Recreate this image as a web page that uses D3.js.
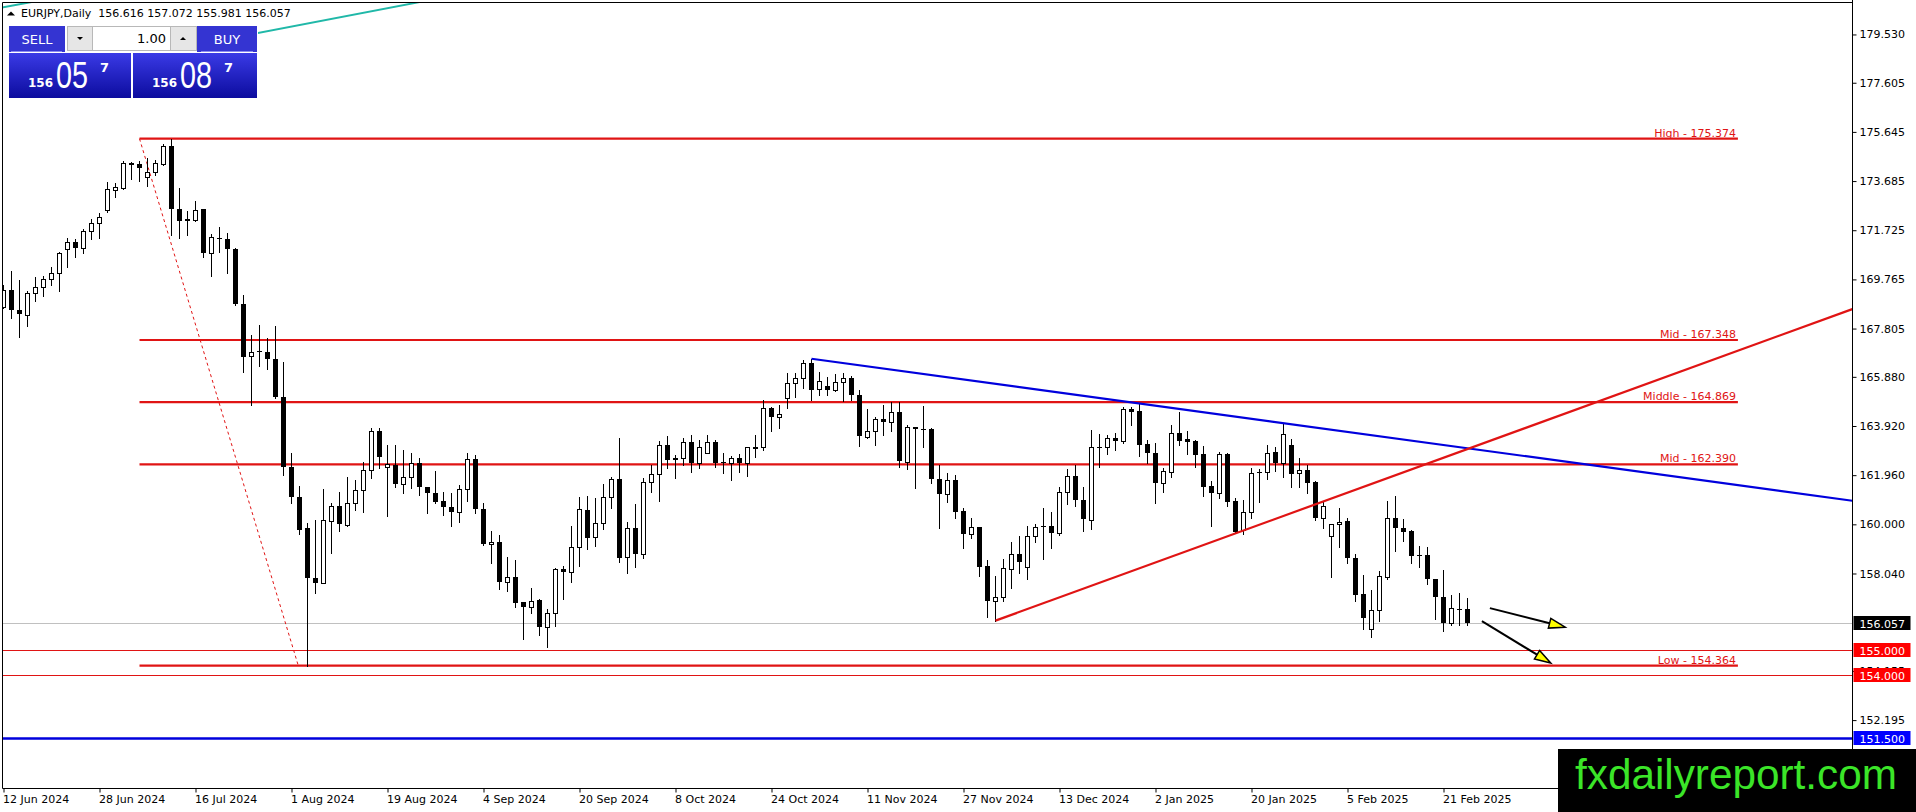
<!DOCTYPE html>
<html>
<head>
<meta charset="utf-8">
<script src="https://cdn.jsdelivr.net/npm/d3@7"></script>
<style>
  html, body { margin: 0; padding: 0; background: #fff; overflow: hidden; }
  svg { display: block; font-family: "DejaVu Sans", sans-serif; }
</style>
</head>
<body>
<svg id="chart" width="1916" height="812"></svg>
<script>
// EURJPY daily candles (bar 0 = 12 Jun 2024)
const opens = [
  168.67,169.33,168.53,168.36,169.23,169.47,169.79,170.03,170.99,171.25,
  171.03,171.69,172.03,172.53,173.33,173.39,174.39,174.36,173.83,174.03,
  174.36,175.07,172.59,172.16,172.13,172.56,170.83,171.43,171.39,170.99,
  168.79,166.72,166.92,166.89,166.59,165.09,162.29,161.10,159.84,157.85,
  157.67,160.15,160.73,159.97,160.84,161.37,162.17,163.73,162.27,162.37,
  161.61,161.87,162.46,161.47,161.24,160.93,160.70,160.50,161.39,162.59,
  160.60,159.20,159.28,157.71,157.91,156.89,156.69,156.98,155.89,156.45,
  158.22,158.08,159.11,160.57,159.48,160.04,161.08,161.79,158.71,159.84,
  158.80,161.67,162.00,163.16,162.63,162.63,163.27,162.43,162.86,163.27,
  162.47,162.46,162.63,162.43,163.06,163.07,164.62,164.29,165.02,165.65,
  165.82,166.42,165.38,165.51,165.35,165.66,165.82,165.16,163.50,163.72,
  164.19,164.09,164.46,162.50,163.87,163.80,163.80,161.79,161.19,161.77,
  160.53,159.60,159.88,158.34,156.95,157.11,158.20,158.82,158.28,159.53,
  159.93,159.93,159.67,161.27,161.94,160.97,160.17,163.10,163.07,163.43,
  163.33,164.58,164.53,163.19,162.83,161.63,162.10,163.63,163.39,163.32,
  162.80,161.53,161.26,162.80,160.93,159.77,160.48,162.10,162.07,162.90,
  162.46,163.16,162.03,162.16,161.67,160.24,159.55,160.00,160.13,158.64,
  157.22,155.81,156.58,157.91,160.26,159.84,159.73,158.79,158.77,157.81,
  157.09,156.08,156.64,156.616
];
const highs = [
  169.56,170.09,169.75,169.29,169.87,169.92,170.27,170.87,171.43,171.36,
  171.79,172.16,172.43,173.63,173.60,174.49,174.43,174.49,174.59,174.53,
  175.16,175.374,173.39,172.49,172.89,172.59,171.56,171.85,171.63,171.03,
  169.16,167.56,167.96,167.43,167.89,166.49,162.83,161.53,160.06,160.17,
  161.39,160.86,161.30,161.90,161.77,162.50,163.83,163.83,163.16,163.16,
  162.96,162.86,162.63,161.50,162.14,161.30,161.23,161.57,162.83,162.76,
  160.84,159.73,159.57,158.68,158.58,156.91,157.47,157.02,156.61,158.24,
  158.35,159.93,161.10,161.13,161.04,161.61,161.87,163.45,160.10,160.83,
  161.83,162.36,163.32,163.52,162.76,163.43,163.56,163.36,163.56,163.36,
  162.83,162.72,162.80,163.09,163.56,164.96,164.66,164.76,166.02,166.02,
  166.55,166.60,166.08,165.89,165.99,166.05,165.91,165.35,164.58,164.29,
  164.76,164.89,164.89,163.96,163.90,164.72,163.83,162.36,162.03,161.97,
  160.64,160.27,159.90,158.58,157.94,158.60,159.31,159.53,159.93,160.01,
  160.64,160.48,161.47,162.19,162.36,161.50,163.76,163.60,163.56,163.65,
  164.69,164.69,164.85,163.36,163.23,162.23,163.96,164.49,163.73,163.36,
  163.12,161.73,162.90,162.86,161.04,160.97,162.23,162.19,163.16,163.10,
  164.05,163.39,162.63,162.36,161.74,160.90,160.03,160.66,160.24,158.82,
  157.98,157.38,158.14,160.93,161.13,160.20,159.77,159.15,159.11,157.83,
  158.18,157.20,157.25,157.072
];
const lows = [
  168.63,168.23,167.47,167.89,168.89,169.09,169.53,169.29,170.25,170.67,
  170.80,171.36,171.43,172.45,173.05,173.36,173.76,173.69,173.49,173.92,
  174.32,171.52,171.43,171.53,172.09,170.65,169.92,170.85,170.00,168.75,
  166.09,164.76,166.33,166.19,165.03,161.96,160.84,159.61,154.364,157.25,
  157.65,158.87,159.75,159.93,160.57,160.50,161.86,162.23,160.34,161.47,
  161.26,161.43,161.17,160.44,160.84,160.37,159.93,160.11,160.94,160.44,
  159.18,158.47,157.41,157.35,156.72,155.41,156.45,155.59,155.09,155.96,
  157.01,157.71,158.34,159.00,159.13,159.80,160.64,158.51,158.04,158.31,
  158.64,161.30,160.94,162.23,161.83,162.36,162.10,162.23,162.83,162.27,
  162.06,161.77,162.10,161.94,162.70,162.96,163.73,163.85,164.62,165.09,
  165.42,164.96,165.15,165.15,165.33,164.93,164.96,163.14,163.43,163.16,
  163.56,163.72,162.27,162.19,161.43,163.09,161.66,159.84,160.90,160.24,
  159.04,159.44,157.94,156.32,156.16,156.95,157.47,158.04,157.81,159.31,
  158.60,159.04,159.57,160.80,160.73,159.75,159.80,162.27,162.80,162.96,
  163.25,163.96,162.72,162.43,160.84,161.30,161.90,163.16,162.80,162.30,
  161.13,159.95,161.04,160.73,159.64,159.61,160.24,160.90,161.79,162.14,
  161.87,161.47,161.50,161.24,160.17,159.84,157.91,159.11,158.44,156.96,
  155.81,155.52,156.16,157.81,158.95,159.35,158.47,158.31,157.62,156.24,
  155.76,155.98,155.98,155.981
];
const closes = [
  169.33,168.56,168.39,169.23,169.45,169.79,170.03,170.83,171.25,171.01,
  171.69,172.03,172.27,173.36,173.44,174.40,174.33,174.21,174.03,174.39,
  175.09,172.59,172.09,172.11,172.53,170.80,171.45,171.39,170.99,168.79,
  166.69,166.89,166.87,166.59,165.09,162.29,161.10,159.79,157.85,157.67,
  160.17,160.73,160.00,160.84,161.37,162.17,163.73,162.70,162.39,161.59,
  161.87,162.46,161.50,161.24,160.90,160.70,160.50,161.39,162.59,160.60,
  159.20,159.30,157.69,157.91,156.87,156.69,156.95,155.89,156.45,158.22,
  158.08,159.11,160.60,159.47,160.04,161.08,161.79,158.67,159.84,158.80,
  161.67,162.00,163.16,162.56,162.56,163.27,162.43,163.07,163.27,162.43,
  162.43,162.63,162.43,163.07,163.09,164.62,164.29,164.38,165.65,165.82,
  166.42,165.35,165.71,165.35,165.69,165.82,165.16,163.52,163.72,164.19,
  164.09,164.46,162.54,163.87,163.79,163.78,161.79,161.19,161.77,160.50,
  159.60,159.88,158.31,156.95,157.11,158.24,158.82,158.48,159.53,159.88,
  159.88,159.67,161.27,161.94,160.97,160.20,163.07,163.04,163.43,163.33,
  164.58,164.49,163.16,162.83,161.63,162.14,163.63,163.34,163.30,162.76,
  161.50,161.26,162.80,160.90,159.71,160.48,162.03,162.03,162.86,162.46,
  163.59,162.00,162.16,161.66,160.24,160.73,160.01,160.10,158.64,157.18,
  156.28,156.58,157.94,160.24,159.84,159.71,158.74,158.75,157.81,157.09,
  156.08,156.65,156.58,156.057
];

const dateTicks = [0, 12, 24, 36, 48, 60, 72, 84, 96, 108, 120, 132, 144, 156, 168, 180];
const dateLabels = [
  "12 Jun 2024", "28 Jun 2024", "16 Jul 2024", "1 Aug 2024", "19 Aug 2024", "4 Sep 2024",
  "20 Sep 2024", "8 Oct 2024", "24 Oct 2024", "11 Nov 2024", "27 Nov 2024", "13 Dec 2024",
  "2 Jan 2025", "20 Jan 2025", "5 Feb 2025", "21 Feb 2025"
];
const priceTicks = [
  179.530, 177.605, 175.645, 173.685, 171.725, 169.765, 167.805, 165.880,
  163.920, 161.960, 160.000, 158.040, 154.155, 152.195
];

// fibonacci levels and the bars they span
const fibLevels = [175.374, 167.348, 164.869, 162.390, 154.364];
const fibNames = ["High", "Mid", "Middle", "Mid", "Low"];
const fibSpan = [17, 216.8];
const fibDiagonal = [[17, 175.374], [36.85, 154.364]];

// trendlines as [bar, price] anchors, drawn as rays to the right
const blueTrend = [[101, 166.60], [231.1, 160.94]];
const redTrend = [[124, 156.16], [231.1, 168.58]];
const tealLines = [[[20, 178.87], [52, 180.82]], [[-0.2, 180.6], [4.3, 180.87]]];

// horizontal levels with their price box
const levelPrices = [156.057, 155.000, 154.000, 151.500];
const levelKinds = ["bid", "red", "red", "blue"];

// yellow arrows [from, to] in [bar, price]
const arrows = [
  [[185.8, 156.66], [195.2, 155.90]],
  [[184.8, 156.14], [193.4, 154.47]]
];

const quote = { symbol: "EURJPY,Daily", ohlc: "156.616 157.072 155.981 156.057", bid: ["156", "05", "7"], ask: ["156", "08", "7"], lot: "1.00" };

const W = 1916, H = 812;
const plotL = 2.5, plotR = 1852.5, plotT = 2.5, plotB = 788.5;
const RED = "#e01414";
const BLUE = "#0000dd";

const svg = d3.select("#chart");

const x = d3.scaleLinear().domain([0, 1]).range([3.5, 11.5]);
const y = d3.scaleLinear().domain([154.364, 175.374]).range([665.7, 138.7]);

svg.append("rect").attr("width", W).attr("height", H).attr("fill", "#fff");

const defs = svg.append("defs");
defs.append("clipPath").attr("id", "plot-clip")
  .append("rect")
  .attr("x", plotL).attr("y", plotT)
  .attr("width", plotR - plotL).attr("height", plotB - plotT);

const grad = defs.append("linearGradient").attr("id", "quote-grad")
  .attr("x1", 0).attr("y1", 0).attr("x2", 0).attr("y2", 1);
grad.append("stop").attr("offset", "0%").attr("stop-color", "#3a3ae6");
grad.append("stop").attr("offset", "100%").attr("stop-color", "#0c0c9e");

const plot = svg.append("g").attr("clip-path", "url(#plot-clip)");

// right price axis
const yAxis = d3.axisRight(y)
  .tickValues(priceTicks)
  .tickFormat(d3.format(".3f"))
  .tickSize(4)
  .tickSizeOuter(0);

svg.append("g")
  .attr("transform", `translate(${plotR},0)`)
  .call(yAxis)
  .call(g => g.select(".domain").remove())
  .call(g => g.selectAll("text").attr("x", 7).attr("font-size", 11).attr("font-family", "DejaVu Sans").attr("fill", "#000"));

// bottom date axis
const xAxis = d3.axisBottom(x)
  .tickValues(dateTicks)
  .tickFormat((d, i) => dateLabels[i])
  .tickSize(4)
  .tickSizeOuter(0);

svg.append("g")
  .attr("transform", `translate(0,${plotB})`)
  .call(xAxis)
  .call(g => g.select(".domain").remove())
  .call(g => g.selectAll("text")
    .attr("text-anchor", "start")
    .attr("x", -1)
    .attr("y", 7)
    .attr("font-size", 11)
    .attr("font-family", "DejaVu Sans")
    .attr("fill", "#000"));

// chart frame
svg.append("path")
  .attr("d", `M${plotL},${plotB}V${plotT}H${plotR}`)
  .attr("fill", "none").attr("stroke", "#000").attr("stroke-width", 1);
svg.append("line")
  .attr("x1", plotR).attr("x2", plotR).attr("y1", 0).attr("y2", plotB)
  .attr("stroke", "#000");
svg.append("line")
  .attr("x1", plotL).attr("x2", plotR).attr("y1", plotB).attr("y2", plotB)
  .attr("stroke", "#000");

// horizontal levels across the whole chart
const levelStroke = { bid: "#c0c0c0", red: RED, blue: BLUE };
const levelWidth = { bid: 1, red: 1, blue: 2.5 };
plot.selectAll(".level")
  .data(levelPrices)
  .join("line")
  .attr("class", "level")
  .attr("x1", plotL).attr("x2", plotR)
  .attr("y1", d => Math.round(y(d)) + 0.5)
  .attr("y2", d => Math.round(y(d)) + 0.5)
  .attr("stroke", (d, i) => levelStroke[levelKinds[i]])
  .attr("stroke-width", (d, i) => levelWidth[levelKinds[i]]);

// fibonacci
plot.selectAll(".fib")
  .data(fibLevels)
  .join("line")
  .attr("class", "fib")
  .attr("x1", x(fibSpan[0])).attr("x2", x(fibSpan[1]))
  .attr("y1", d => y(d)).attr("y2", d => y(d))
  .attr("stroke", RED).attr("stroke-width", 2.2);

plot.selectAll(".fib-label")
  .data(fibLevels)
  .join("text")
  .attr("class", "fib-label")
  .attr("x", x(fibSpan[1]) - 2)
  .attr("y", d => y(d) - 2)
  .attr("text-anchor", "end")
  .attr("font-size", 11)
  .attr("fill", RED)
  .text((d, i) => `${fibNames[i]} - ${d3.format(".3f")(d)}`);

plot.append("line")
  .attr("x1", x(fibDiagonal[0][0])).attr("y1", y(fibDiagonal[0][1]))
  .attr("x2", x(fibDiagonal[1][0])).attr("y2", y(fibDiagonal[1][1]))
  .attr("stroke", RED).attr("stroke-width", 1)
  .attr("stroke-dasharray", "3,3");

// candles
const bars = d3.range(opens.length);
const candles = plot.append("g").attr("shape-rendering", "crispEdges");

candles.selectAll(".wick")
  .data(bars)
  .join("line")
  .attr("class", "wick")
  .attr("x1", i => x(i)).attr("x2", i => x(i))
  .attr("y1", i => Math.round(y(highs[i])))
  .attr("y2", i => Math.round(y(lows[i])) + 1)
  .attr("stroke", "#000");

candles.selectAll(".body")
  .data(bars)
  .join("rect")
  .attr("class", "body")
  .attr("x", i => closes[i] >= opens[i] ? x(i) - 2 : x(i) - 2.5)
  .attr("width", i => closes[i] >= opens[i] ? 4 : 5)
  .attr("y", i => {
    const top = Math.round(y(Math.max(opens[i], closes[i])));
    return closes[i] >= opens[i] ? top + 0.5 : top;
  })
  .attr("height", i => {
    const top = Math.round(y(Math.max(opens[i], closes[i])));
    const bot = Math.round(y(Math.min(opens[i], closes[i])));
    return Math.max(1, bot - top);
  })
  .attr("fill", i => closes[i] >= opens[i] ? "#fff" : "#000")
  .attr("stroke", i => closes[i] >= opens[i] ? "#000" : "none")
  .attr("stroke-width", 1);

// trendlines
const line = d3.line().x(d => x(d[0])).y(d => y(d[1]));
plot.append("path").attr("d", line(blueTrend))
  .attr("fill", "none").attr("stroke", BLUE).attr("stroke-width", 2.2);
plot.append("path").attr("d", line(redTrend))
  .attr("fill", "none").attr("stroke", RED).attr("stroke-width", 2.2);
plot.selectAll(".teal")
  .data(tealLines)
  .join("path")
  .attr("class", "teal")
  .attr("d", d => line(d))
  .attr("fill", "none").attr("stroke", "#20b8a8").attr("stroke-width", 2);

// arrows
const arrowG = plot.append("g");
arrows.forEach(([from, to]) => {
  const x0 = x(from[0]), y0 = y(from[1]);
  const x1 = x(to[0]), y1 = y(to[1]);
  const len = Math.hypot(x1 - x0, y1 - y0);
  const ux = (x1 - x0) / len, uy = (y1 - y0) / len;
  const bx = x1 - ux * 16, by = y1 - uy * 16;
  arrowG.append("line")
    .attr("x1", x0).attr("y1", y0).attr("x2", bx).attr("y2", by)
    .attr("stroke", "#000").attr("stroke-width", 2);
  arrowG.append("path")
    .attr("d", `M${x1},${y1}L${bx - uy * 5},${by + ux * 5}L${bx + uy * 5},${by - ux * 5}Z`)
    .attr("fill", "#ffff00").attr("stroke", "#000").attr("stroke-width", 1.5)
    .attr("stroke-linejoin", "miter");
});

// price boxes on the axis
const boxFill = { bid: "#000", red: "#ff0000", blue: "#0000ff" };
const boxes = svg.append("g");
boxes.selectAll("rect")
  .data(levelPrices)
  .join("rect")
  .attr("x", plotR + 1).attr("width", 57)
  .attr("y", d => Math.round(y(d)) - 7).attr("height", 14)
  .attr("fill", (d, i) => boxFill[levelKinds[i]]);
boxes.selectAll("text")
  .data(levelPrices)
  .join("text")
  .attr("x", plotR + 7)
  .attr("y", d => Math.round(y(d)) + 4.5)
  .attr("font-size", 11)
  .attr("fill", "#fff")
  .text(d => d3.format(".3f")(d));

// header text
const header = svg.append("g");
header.append("path").attr("d", "M7,15.5L11,11.5L15,15.5Z").attr("fill", "#000");
header.append("text")
  .attr("x", 21).attr("y", 17)
  .attr("font-size", 11)
  .attr("fill", "#000")
  .style("white-space", "pre")
  .text(`${quote.symbol}  ${quote.ohlc}`);

// one-click trading panel
const panel = svg.append("g");
panel.append("rect").attr("x", 8).attr("y", 25).attr("width", 250).attr("height", 73).attr("fill", "#fff");
panel.append("rect").attr("x", 9).attr("y", 26).attr("width", 56).attr("height", 26).attr("fill", "#3434d2");
panel.append("rect").attr("x", 197).attr("y", 26).attr("width", 60).attr("height", 26).attr("fill", "#3434d2");
panel.append("line").attr("x1", 11).attr("x2", 62).attr("y1", 51.5).attr("y2", 51.5).attr("stroke", "#8a8af0");
panel.append("line").attr("x1", 201).attr("x2", 253).attr("y1", 51.5).attr("y2", 51.5).attr("stroke", "#8a8af0");
panel.append("text").attr("x", 37).attr("y", 44).attr("text-anchor", "middle")
  .attr("font-size", 13).attr("fill", "#fff").text("SELL");
panel.append("text").attr("x", 227).attr("y", 44).attr("text-anchor", "middle")
  .attr("font-size", 13).attr("fill", "#fff").text("BUY");

panel.append("rect").attr("x", 67.5).attr("y", 26.5).attr("width", 129).attr("height", 24)
  .attr("fill", "#fff").attr("stroke", "#b8b8b8");
panel.append("rect").attr("x", 67.5).attr("y", 26.5).attr("width", 25).attr("height", 24)
  .attr("fill", "#e6e6e6").attr("stroke", "#b8b8b8");
panel.append("rect").attr("x", 170.5).attr("y", 26.5).attr("width", 26).attr("height", 24)
  .attr("fill", "#e6e6e6").attr("stroke", "#b8b8b8");
panel.append("path").attr("d", "M77,37L83,37L80,40Z").attr("fill", "#000");
panel.append("path").attr("d", "M180,40L186,40L183,37Z").attr("fill", "#000");
panel.append("text").attr("x", 166).attr("y", 43).attr("text-anchor", "end")
  .attr("font-size", 13).attr("fill", "#000").text(quote.lot);

const quoteBoxes = [
  { x0: 9, w: 122, parts: quote.bid },
  { x0: 133, w: 124, parts: quote.ask }
];
quoteBoxes.forEach(q => {
  panel.append("rect").attr("x", q.x0).attr("y", 53).attr("width", q.w).attr("height", 45)
    .attr("fill", "url(#quote-grad)");
  panel.append("text").attr("x", q.x0 + 19).attr("y", 87)
    .attr("font-size", 12).attr("font-weight", "bold").attr("fill", "#fff").text(q.parts[0]);
  panel.append("text").attr("x", q.x0 + 47).attr("y", 87.5)
    .attr("font-family", "Liberation Sans").attr("font-size", 37)
    .attr("textLength", 32).attr("lengthAdjust", "spacingAndGlyphs")
    .attr("fill", "#fff").text(q.parts[1]);
  panel.append("text").attr("x", q.x0 + 91).attr("y", 71.5)
    .attr("font-size", 13).attr("font-weight", "bold").attr("fill", "#fff").text(q.parts[2]);
});

// watermark
svg.append("rect").attr("x", 1558).attr("y", 749).attr("width", W - 1558).attr("height", H - 749).attr("fill", "#000");
svg.append("text")
  .attr("x", 1575).attr("y", 789)
  .attr("font-family", "Liberation Sans, Arial, sans-serif")
  .attr("font-size", 42)
  .attr("textLength", 322).attr("lengthAdjust", "spacingAndGlyphs")
  .attr("fill", "#3be528")
  .text("fxdailyreport.com");
</script>
</body>
</html>
